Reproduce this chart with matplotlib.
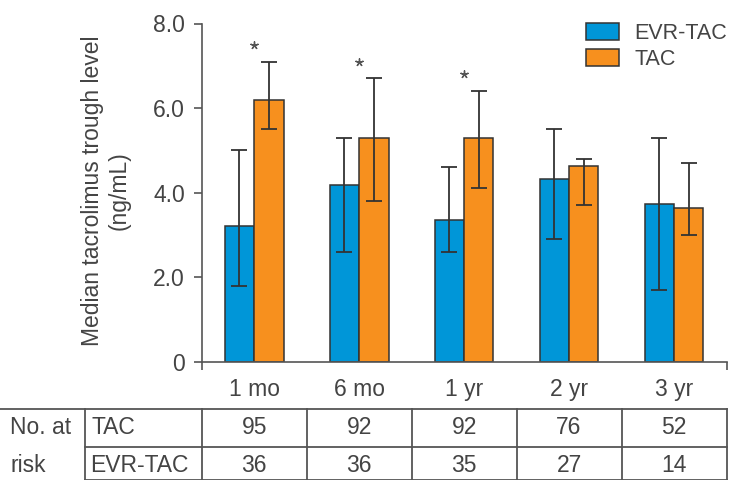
import numpy as np
import matplotlib
matplotlib.use("Agg")
import matplotlib.pyplot as plt
from matplotlib.lines import Line2D

plt.rcParams['font.family'] = ['Liberation Sans', 'DejaVu Sans']

# Data
timepoints = ["1 mo", "6 mo", "1 yr", "2 yr", "3 yr"]
evr_tac = [3.2, 4.18, 3.35, 4.32, 3.72]
evr_tac_low = [1.8, 2.6, 2.6, 2.9, 1.7]
evr_tac_high = [5.0, 5.3, 4.6, 5.5, 5.3]
tac = [6.2, 5.3, 5.3, 4.64, 3.63]
tac_low = [5.5, 3.8, 4.1, 3.7, 3.0]
tac_high = [7.1, 6.7, 6.4, 4.8, 4.7]
significant = [True, True, True, False, False]
at_risk_tac = [95, 92, 92, 76, 52]
at_risk_evr = [36, 36, 35, 27, 14]

blue = '#0096d8'
orange = '#f7901e'
dark = '#333333'
grey_text = '#444444'
fs = 16.5
W, H = 734, 480

fig = plt.figure(figsize=(W / 100, H / 100), dpi=100)
ax_left, ax_right = 201.7 / W, 726.5 / W
ax_bottom, ax_top = 1 - 361.7 / H, 1 - 23.5 / H
ax = fig.add_axes([ax_left, ax_bottom, ax_right - ax_left, ax_top - ax_bottom])

x = np.arange(len(timepoints))
width = 0.28

def err(vals, lo, hi):
    vals = np.array(vals)
    return [vals - np.array(lo), np.array(hi) - vals]

ax.bar(x - width / 2, evr_tac, width, color=blue, edgecolor=dark, linewidth=1.1,
       label='EVR-TAC', zorder=2)
ax.bar(x + width / 2, tac, width, color=orange, edgecolor=dark, linewidth=1.1,
       label='TAC', zorder=2)
ax.errorbar(x - width / 2, evr_tac, yerr=err(evr_tac, evr_tac_low, evr_tac_high),
            fmt='none', ecolor=dark, elinewidth=1.3, capsize=6, capthick=1.3, zorder=3)
ax.errorbar(x + width / 2, tac, yerr=err(tac, tac_low, tac_high),
            fmt='none', ecolor=dark, elinewidth=1.3, capsize=6, capthick=1.3, zorder=3)

# significance marks above the TAC error bars
sig_x = x[np.array(significant)]
sig_y = np.array(tac_high)[np.array(significant)] + 0.4
ax.scatter(sig_x, sig_y, marker=(5, 2, 0), s=28, color='#555555', linewidths=1.0, zorder=4)

ax.set_xlim(-0.5, 4.5)
ax.set_ylim(0, 8)
ax.set_yticks([0, 2, 4, 6, 8])
ax.set_yticklabels(['0', '2.0', '4.0', '6.0', '8.0'])
ax.set_xticks(x)
ax.set_xticklabels(timepoints)
ax.set_xticks([-0.5, 4.5], minor=True)
ax.tick_params(axis='x', which='major', length=0, pad=12, labelsize=fs, labelcolor=grey_text)
ax.tick_params(axis='x', which='minor', length=6, width=1.2, color='#555555')
ax.tick_params(axis='y', length=6, width=1.2, color='#555555', pad=6,
               labelsize=fs, labelcolor=grey_text)
for s in ['top', 'right']:
    ax.spines[s].set_visible(False)
for s in ['left', 'bottom']:
    ax.spines[s].set_color('#555555')
    ax.spines[s].set_linewidth(1.2)

fig.text(106 / W, 1 - 191 / H, 'Median tacrolimus trough level\n(ng/mL)',
         rotation=90, ha='center', va='center', fontsize=fs, color=grey_text,
         linespacing=1.2)

ax.legend(loc='upper right', bbox_to_anchor=(1.03, 1.045), frameon=False,
          fontsize=15.5, handlelength=1.53, handleheight=0.83, handletextpad=0.72,
          labelspacing=0.22, labelcolor=grey_text, borderpad=0.2)

# number-at-risk table below the axes
line_kw = dict(color='#555555', linewidth=1.3, transform=fig.transFigure)
col_w = (ax_right - ax_left) / len(timepoints)
y_top, y_mid, y_bot = 1 - 409 / H, 1 - 446.5 / H, 1 - 479.5 / H
fig.add_artist(Line2D([0, ax_right], [y_top, y_top], **line_kw))
fig.add_artist(Line2D([85 / W, ax_right], [y_mid, y_mid], **line_kw))
fig.add_artist(Line2D([85 / W, ax_right], [y_bot, y_bot], **line_kw))
for xv in [85 / W] + [ax_left + i * col_w for i in range(len(timepoints) + 1)]:
    fig.add_artist(Line2D([xv, xv], [y_bot, y_top], **line_kw))

row1_y, row2_y = 1 - 428 / H, 1 - 465 / H
fig.text(10 / W, row1_y, 'No. at', fontsize=fs, color=grey_text, va='center')
fig.text(10 / W, row2_y, 'risk', fontsize=fs, color=grey_text, va='center')
fig.text(92 / W, row1_y, 'TAC', fontsize=fs, color=grey_text, va='center')
fig.text(90 / W, row2_y, 'EVR-TAC', fontsize=fs, color=grey_text, va='center')
for i in range(len(timepoints)):
    cx = ax_left + (i + 0.5) * col_w
    fig.text(cx, row1_y, str(at_risk_tac[i]), fontsize=fs, color=grey_text,
             ha='center', va='center')
    fig.text(cx, row2_y, str(at_risk_evr[i]), fontsize=fs, color=grey_text,
             ha='center', va='center')

fig.savefig('out.png', dpi=100)
